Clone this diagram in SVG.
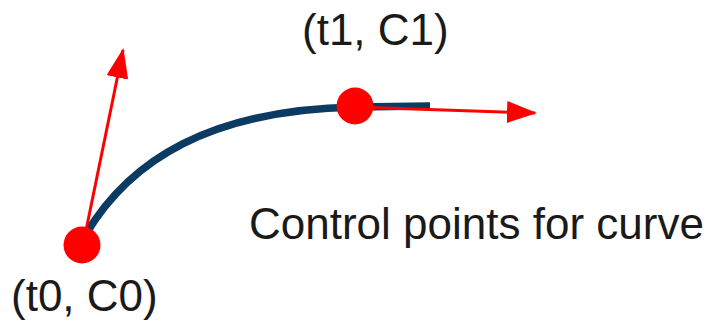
<svg xmlns="http://www.w3.org/2000/svg" width="709" height="323" viewBox="0 0 709 323">
<style>
.lbl{font-family:"Liberation Sans",Arial,sans-serif;font-size:44px;fill:#1a1a1a}
.vec{stroke:#ff0000;stroke-width:3;fill:none}
.pt{fill:#ff0000}
</style>
<defs>
<marker id="ah" viewBox="0 0 30 22" refX="28" refY="11" markerWidth="30" markerHeight="22" markerUnits="userSpaceOnUse" orient="auto">
<path d="M0 0 L30 11 L0 22 Z" fill="#ff0000"/>
</marker>
</defs>
<rect width="709" height="323" fill="#ffffff"/>
<g id="curve">
<path d="M86 234 C130 160 210 110 355 107 L430 106" stroke="#0b3a62" stroke-width="7.5" fill="none"/>
</g>
<g id="connectors">
<line class="vec" x1="83" y1="245" x2="123" y2="50" marker-end="url(#ah)"/>
<line class="vec" x1="355" y1="107" x2="535" y2="113" marker-end="url(#ah)"/>
</g>
<g id="p0">
<circle class="pt" cx="82" cy="245" r="18.5"/>
<text class="lbl" x="11" y="311">(t0, C0)</text>
</g>
<g id="p1">
<circle class="pt" cx="355" cy="106" r="18.5"/>
<text class="lbl" x="302" y="45">(t1, C1)</text>
</g>
<g id="caption">
<text class="lbl" x="249" y="239">Control points for curve</text>
</g>
</svg>
